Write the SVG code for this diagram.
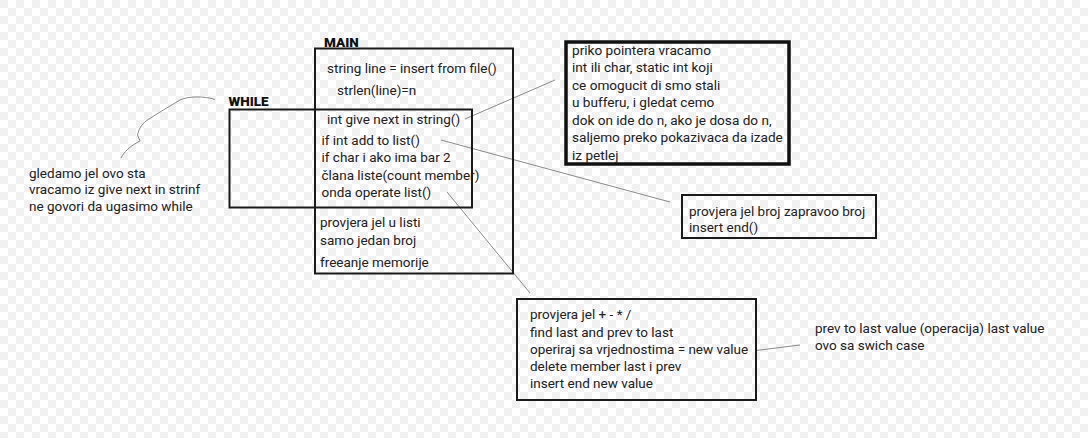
<svg xmlns="http://www.w3.org/2000/svg" width="1088" height="438" viewBox="0 0 1088 438">
<defs>
<pattern id="checker" width="16" height="16" patternUnits="userSpaceOnUse">
<rect width="16" height="16" fill="#ffffff"/>
<rect width="8" height="8" fill="#f1f1f1"/>
<rect x="8" y="8" width="8" height="8" fill="#f1f1f1"/>
</pattern>
<style>
.t{font-family:Roboto,"Liberation Sans",sans-serif;font-size:13.5px;fill:#222}
.tb{font-family:Roboto,"Liberation Sans",sans-serif;font-size:13.6px;fill:#222}
.h{font-family:Roboto,"Liberation Sans",sans-serif;font-size:13.5px;font-weight:900;fill:#111}
.box{fill:none;stroke:#1a1a1a;stroke-width:2}
.thick{fill:none;stroke:#111;stroke-width:3.5}
.c{fill:none;stroke:#8a8a8a;stroke-width:1}
</style>
</defs>
<rect width="1088" height="438" fill="url(#checker)"/>

<g id="connectors">
<line class="c" x1="465" y1="119" x2="555" y2="80"/>
<line class="c" x1="441" y1="140" x2="670" y2="202"/>
<line class="c" x1="447" y1="192" x2="530" y2="293"/>
<line class="c" x1="756" y1="350.5" x2="800" y2="345"/>
<path class="c" d="M121,158 C124,152 130,146 140,141 L137.5,135 C139,129 141,125 146,121 C158,113 170,106 180,100 C188,96 205,96 215,99.5"/>
</g>

<g id="main">
<text class="h" x="324" y="47">MAIN</text>
<rect class="box" x="315" y="48.5" width="198" height="225"/>
<text class="t" x="327" y="73">string line = insert from file()</text>
<text class="t" x="337" y="95">strlen(line)=n</text>
<text class="t" x="320" y="227">provjera jel u listi</text>
<text class="t" x="320" y="245">samo jedan broj</text>
<text class="t" x="320" y="267">freeanje memorije</text>
</g>

<g id="while">
<text class="h" x="228.5" y="106">WHILE</text>
<rect class="box" x="229.5" y="109.5" width="242.5" height="98"/>
<text class="t" x="327" y="124">int give next in string()</text>
<text class="t" x="321.5" y="145">if int add to list()</text>
<text class="t" x="321.5" y="162">if char i ako ima bar 2</text>
<text class="t" x="321.5" y="180">člana liste(count member)</text>
<text class="t" x="321.5" y="197">onda operate list()</text>
</g>

<g id="pointer-note">
<rect class="thick" x="566" y="42" width="223" height="122"/>
<text class="tb" x="572" y="54.5">priko pointera vracamo</text>
<text class="tb" x="572" y="72">int ili char, static int koji</text>
<text class="tb" x="572" y="89.5">ce omogucit di smo stali</text>
<text class="tb" x="572" y="107">u bufferu, i gledat cemo</text>
<text class="tb" x="572" y="124.5">dok on ide do n, ako je dosa do n,</text>
<text class="tb" x="572" y="142">saljemo preko pokazivaca da izade</text>
<text class="tb" x="572" y="159.5">iz petlej</text>
</g>

<g id="add-note">
<rect class="box" x="682" y="195" width="194" height="43"/>
<text class="t" x="689" y="215.5">provjera jel broj zapravoo broj</text>
<text class="t" x="689" y="232">insert end()</text>
</g>

<g id="operate-note">
<rect class="box" x="517" y="299" width="239" height="101"/>
<text class="t" x="530" y="319">provjera jel + - * /</text>
<text class="t" x="530" y="336.5">find last and prev to last</text>
<text class="t" x="530" y="354">operiraj sa vrjednostima = new value</text>
<text class="t" x="530" y="371">delete member last i prev</text>
<text class="t" x="530" y="388">insert end new value</text>
</g>

<g id="switch-note">
<text class="t" x="815" y="333">prev to last value (operacija) last value</text>
<text class="t" x="815" y="350">ovo sa swich case</text>
</g>

<g id="while-note">
<text class="t" x="29" y="177.5">gledamo jel ovo sta</text>
<text class="t" x="29" y="194">vracamo iz give next in strinf</text>
<text class="t" x="29" y="211">ne govori da ugasimo while</text>
</g>
</svg>
